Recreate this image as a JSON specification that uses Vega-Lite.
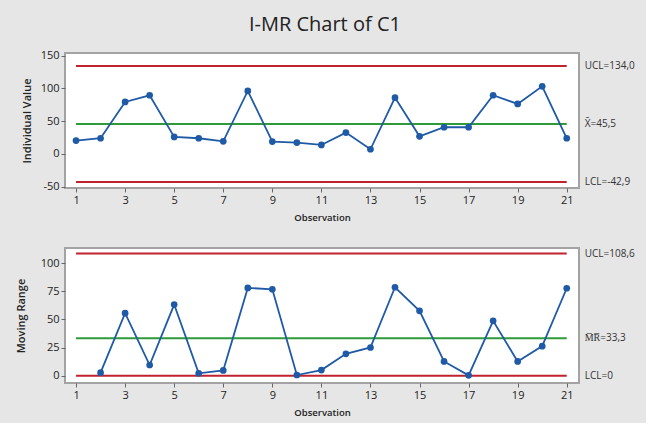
{
  "$schema": "https://vega.github.io/schema/vega-lite/v6.json",
  "background": "#e6e6e6",
  "padding": {"left": 14, "top": 14, "right": 10, "bottom": 5},
  "title": {"text": "I-MR Chart of C1", "fontSize": 20, "font": "Open Sans", "fontWeight": "normal", "color": "#222222", "anchor": "middle", "offset": 14},
  "datasets": {
    "iv": [
      {"obs": 1, "value": 20.3}, {"obs": 2, "value": 23.9}, {"obs": 3, "value": 79.3}, {"obs": 4, "value": 89.5},
      {"obs": 5, "value": 25.9}, {"obs": 6, "value": 23.9}, {"obs": 7, "value": 19.3}, {"obs": 8, "value": 96.1},
      {"obs": 9, "value": 18.8}, {"obs": 10, "value": 17.3}, {"obs": 11, "value": 13.7}, {"obs": 12, "value": 32.5},
      {"obs": 13, "value": 7.1}, {"obs": 14, "value": 85.9}, {"obs": 15, "value": 26.9}, {"obs": 16, "value": 40.7},
      {"obs": 17, "value": 40.7}, {"obs": 18, "value": 89.5}, {"obs": 19, "value": 76.3}, {"obs": 20, "value": 103.2},
      {"obs": 21, "value": 23.9}
    ],
    "mr": [
      {"obs": 2, "value": 2.7}, {"obs": 3, "value": 55.6}, {"obs": 4, "value": 9.5}, {"obs": 5, "value": 63.3},
      {"obs": 6, "value": 2.1}, {"obs": 7, "value": 4.7}, {"obs": 8, "value": 78.1}, {"obs": 9, "value": 76.9},
      {"obs": 10, "value": 0.6}, {"obs": 11, "value": 5.0}, {"obs": 12, "value": 19.5}, {"obs": 13, "value": 25.1},
      {"obs": 14, "value": 78.7}, {"obs": 15, "value": 57.7}, {"obs": 16, "value": 12.7}, {"obs": 17, "value": 0.3},
      {"obs": 18, "value": 48.8}, {"obs": 19, "value": 12.7}, {"obs": 20, "value": 26.3}, {"obs": 21, "value": 77.8}
    ],
    "ivlim": [
      {"kind": "limit", "value": 134.0, "obs": 1, "end": 21, "label": "UCL=134,0"},
      {"kind": "center", "value": 45.5, "obs": 1, "end": 21, "label": "X̄=45,5"},
      {"kind": "limit", "value": -42.9, "obs": 1, "end": 21, "label": "LCL=-42,9"}
    ],
    "mrlim": [
      {"kind": "limit", "value": 108.6, "obs": 1, "end": 21, "label": "UCL=108,6"},
      {"kind": "center", "value": 33.3, "obs": 1, "end": 21, "label": "M̅R̅=33,3"},
      {"kind": "limit", "value": 0, "obs": 1, "end": 21, "label": "LCL=0"}
    ]
  },
  "spacing": 24,
  "config": {
    "view": {"stroke": "#a3a3a3", "strokeWidth": 2, "fill": "white"},
    "axis": {"grid": false, "domain": false, "tickColor": "#666666", "tickSize": 4, "labelColor": "#222222", "labelFont": "Open Sans", "labelFontSize": 11, "labelOverlap": false, "labelFlush": false, "titleFont": "Open Sans", "titleFontWeight": 600, "titleColor": "#222222"},
    "axisY": {"labelOverlap": false},
    "axisQuantitative": {"labelOverlap": false}
  },
  "vconcat": [
    {
      "width": 514,
      "height": 135,
      "encoding": {
        "x": {"field": "obs", "type": "quantitative", "scale": {"domain": [0.55, 21.5], "nice": false, "zero": false}, "axis": {"values": [1,3,5,7,9,11,13,15,17,19,21], "title": "Observation", "titlePadding": 7, "titleFontSize": 9.5, "labelOverlap": false}},
        "y": {"field": "value", "type": "quantitative", "scale": {"domain": [-52, 154], "nice": false, "zero": false}, "axis": {"values": [-50, 0, 50, 100, 150], "labelExpr": "'' + datum.value", "title": "Individual Value", "titlePadding": 8, "titleFontSize": 11, "labelOverlap": false}}
      },
      "layer": [
        {
          "data": {"name": "ivlim"},
          "mark": {"type": "rule", "strokeWidth": 2},
          "encoding": {
            "x2": {"field": "end"},
            "color": {"field": "kind", "type": "nominal", "scale": {"domain": ["limit", "center"], "range": ["#c0222e", "#2e9a3a"]}, "legend": null}
          }
        },
        {
          "data": {"name": "ivlim"},
          "mark": {"type": "text", "align": "left", "baseline": "middle", "dx": 18, "font": "Open Sans", "fontSize": 10, "color": "#333333"},
          "encoding": {
            "x": {"field": "end", "type": "quantitative"},
            "text": {"field": "label"}
          }
        },
        {
          "data": {"name": "iv"},
          "mark": {"type": "line", "color": "#1f5aa6", "strokeWidth": 1.8, "point": {"filled": true, "size": 45, "color": "#1f5aa6"}},
          "encoding": {}
        }
      ]
    },
    {
      "width": 514,
      "height": 135,
      "encoding": {
        "x": {"field": "obs", "type": "quantitative", "scale": {"domain": [0.55, 21.5], "nice": false, "zero": false}, "axis": {"values": [1,3,5,7,9,11,13,15,17,19,21], "title": "Observation", "titlePadding": 7, "titleFontSize": 9.5, "labelOverlap": false}},
        "y": {"field": "value", "type": "quantitative", "scale": {"domain": [-6.5, 113.6], "nice": false, "zero": false}, "axis": {"values": [0, 25, 50, 75, 100], "title": "Moving Range", "titlePadding": 14, "titleFontSize": 11, "labelOverlap": false}}
      },
      "layer": [
        {
          "data": {"name": "mrlim"},
          "mark": {"type": "rule", "strokeWidth": 2},
          "encoding": {
            "x2": {"field": "end"},
            "color": {"field": "kind", "type": "nominal", "scale": {"domain": ["limit", "center"], "range": ["#c0222e", "#2e9a3a"]}, "legend": null}
          }
        },
        {
          "data": {"name": "mrlim"},
          "mark": {"type": "text", "align": "left", "baseline": "middle", "dx": 18, "font": "Open Sans", "fontSize": 10, "color": "#333333"},
          "encoding": {
            "x": {"field": "end", "type": "quantitative"},
            "text": {"field": "label"}
          }
        },
        {
          "data": {"name": "mr"},
          "mark": {"type": "line", "color": "#1f5aa6", "strokeWidth": 1.8, "point": {"filled": true, "size": 45, "color": "#1f5aa6"}},
          "encoding": {}
        }
      ]
    }
  ]
}
